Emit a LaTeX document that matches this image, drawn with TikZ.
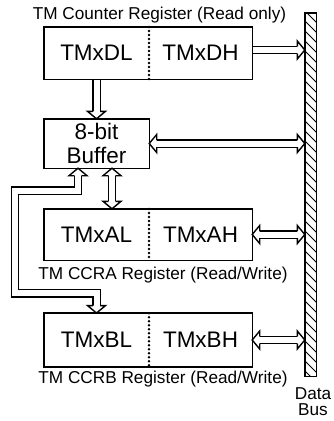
\documentclass[tikz,border=0pt]{standalone}
\usepackage{fontspec}
\setmainfont{Liberation Sans}
\begin{document}
\begin{tikzpicture}[x=1pt,y=-1pt,
  box/.style={draw, line width=1.4pt, inner sep=0pt},
  reg/.style={font=\fontsize{22.5}{24}\selectfont, inner sep=0pt},
  lbl/.style={font=\fontsize{17.2}{15}\selectfont, inner sep=0pt, anchor=base},
  divider/.style={line width=2.8pt, line cap=round, dash pattern=on 0pt off 4pt},
  bus/.style={double, line width=1.4pt, double distance=6pt, line join=miter},
  hatch/.style={line width=1pt},
  hd/.pic={\filldraw[fill=white, line width=1.4pt, line join=miter] (-7.5,3.7) -- (-7.5,9) -- (0,0) -- (-7.5,-9) -- (-7.5,-3.7);}
]
\useasboundingbox (0,0) rectangle (334,421);

% register boxes (positions only, drawn later)
\path (148,53) coordinate (Dc) (96.5,143.5) coordinate (Bufc) (148,234.5) coordinate (Ac) (148,340) coordinate (Bc);
\node[minimum width=208pt, minimum height=52pt, inner sep=0pt] (D) at (Dc) {};
\node[minimum width=105pt, minimum height=49pt, inner sep=0pt] (buf) at (Bufc) {};
\node[minimum width=208pt, minimum height=51pt, inner sep=0pt] (A) at (Ac) {};
\node[minimum width=208pt, minimum height=53.5pt, inner sep=0pt] (B) at (Bc) {};

% data bus
\node[minimum width=11.5pt, minimum height=363pt, inner sep=0pt] (bus) at (310.75,194.5) {};
\begin{scope}
  \clip (bus.south west) rectangle (bus.north east);
  \foreach \y in {-10,0,...,390} \draw[hatch] (304,\y) -- (318,\y+14);
\end{scope}
\draw[line width=1.4pt] (bus.south west) rectangle (bus.north east);

% connector coordinates
\coordinate (d1) at ([yshift=3pt]D.east);
\coordinate (d2) at (d1 -| bus.west);
\coordinate (f2) at (buf.east -| bus.west);
\coordinate (a2) at (A.east -| bus.west);
\coordinate (bb2) at (B.east -| bus.west);
\coordinate (v1) at (buf.north |- D.south);
\coordinate (u1) at ([xshift=15.5pt]buf.south);
\coordinate (u2) at (u1 |- A.north);
\coordinate (b1) at ([xshift=-18.5pt]buf.south);
\coordinate (b2) at (B.north -| buf.north);

% shafts
\draw[bus, shorten >=7pt] (d1) -- (d2);
\draw[bus, shorten >=7pt, shorten <=7pt] (buf.east) -- (f2);
\draw[bus, shorten >=7pt, shorten <=7pt] (A.east) -- (a2);
\draw[bus, shorten >=7pt, shorten <=7pt] (B.east) -- (bb2);
\draw[bus, shorten >=7pt] (v1) -- (buf.north);
\draw[bus, shorten >=7pt, shorten <=7pt] (u1) -- (u2);
\draw[bus, shorten >=7pt, shorten <=7pt] (b1) -- ++(0,22.5) -| (15,293.3) -| (b2);

% boxes
\draw[line width=1.4pt] (D.north west) rectangle (D.south east);
\draw[line width=1.4pt] (buf.north west) rectangle (buf.south east);
\draw[line width=1.4pt] (A.north west) rectangle (A.south east);
\draw[line width=1.4pt] (B.north west) rectangle (B.south east);
\draw[divider] (149,27) -- (149,79);
\draw[divider] (149,209) -- (149,260);
\draw[divider] (149,313.3) -- (149,366.7);

% heads
\pic at (d2) {hd};
\pic at (f2) {hd};
\pic[rotate=180] at (buf.east) {hd};
\pic at (a2) {hd};
\pic[rotate=180] at (A.east) {hd};
\pic at (bb2) {hd};
\pic[rotate=180] at (B.east) {hd};
\pic[rotate=-90] at (buf.north) {hd};
\pic[rotate=90] at (u1) {hd};
\pic[rotate=-90] at (u2) {hd};
\pic[rotate=90] at (b1) {hd};
\pic[rotate=-90] at (b2) {hd};

% texts
\node[reg] (DL) at (96.5,53) {TMxDL};
\node[reg] (DH) at (200.5,53) {TMxDH};
\node[reg, align=center] (buft) at (Bufc) {8-bit\\Buffer};
\node[reg] (AL) at (96.5,234.5) {TMxAL};
\node[reg] (AH) at (200.5,234.5) {TMxAH};
\node[reg] (BL) at (96.5,340) {TMxBL};
\node[reg] (BH) at (200.5,340) {TMxBH};
\node[lbl] (t1) at (159.5,19.5) {TM Counter Register (Read only)};
\node[lbl] (t2) at (163,279) {TM CCRA Register (Read/Write)};
\node[lbl] (t3) at (163,383) {TM CCRB Register (Read/Write)};
\node[font=\fontsize{17.2}{16}\selectfont, align=center, anchor=north, inner sep=0pt] (t4) at (313,387) {Data\\Bus};
\end{tikzpicture}
\end{document}
